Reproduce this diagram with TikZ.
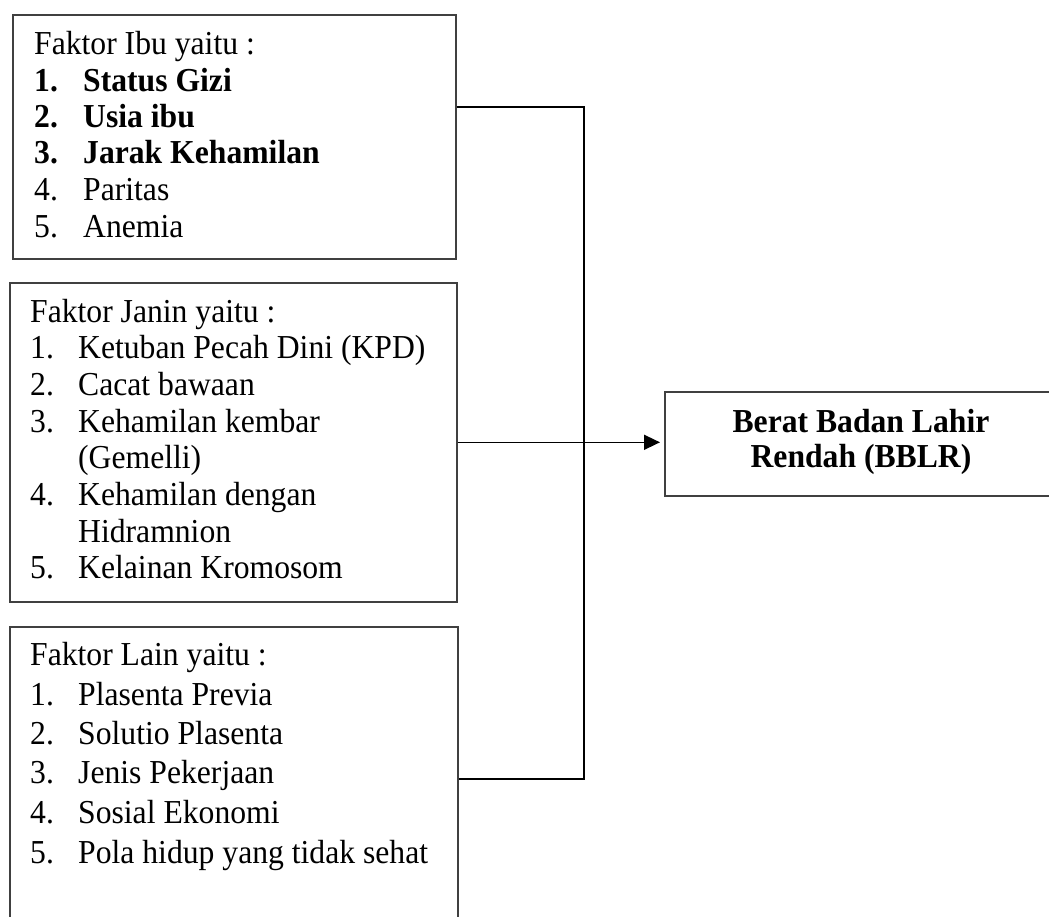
\documentclass[tikz,border=0pt]{standalone}
\usepackage{fontspec}
\setmainfont[FakeStretch=0.945]{Liberation Serif}
\usetikzlibrary{arrows.meta}
\begin{document}
\begin{tikzpicture}[x=1pt,y=-1pt,
  box/.style={draw=black!75, line width=1.6pt, rectangle, inner sep=0pt, anchor=north west},
  txt/.style={anchor=base west, inner sep=0pt, font=\fontsize{33.5}{36}\selectfont},
  bb/.style={anchor=base, inner sep=0pt, font=\fontsize{33.5}{36}\selectfont\bfseries},
  conn/.style={line width=1.5pt, draw=black}]
\useasboundingbox (0,0) rectangle (1049,916);
\begin{scope}
\clip (0,0) rectangle (1049,916);
\node[box, minimum width=443pt, minimum height=244pt] (ibu) at (12,14) {};
\node[box, minimum width=447pt, minimum height=319pt] (janin) at (9,282) {};
\node[box, minimum width=448pt, minimum height=340pt] (lain) at (9,626) {};
\node[box, minimum width=420pt, minimum height=104pt] (bblr) at (664,391) {};
\end{scope}
% texts box 1
\node[txt] (t10) at (34,54) {Faktor Ibu yaitu :};
\node[txt] (t11) at (34,91) {\bfseries\makebox[49pt][l]{1.}Status Gizi};
\node[txt] (t12) at (34,127) {\bfseries\makebox[49pt][l]{2.}Usia ibu};
\node[txt] (t13) at (34,163) {\bfseries\makebox[49pt][l]{3.}Jarak Kehamilan};
\node[txt] (t14) at (34,200) {\makebox[49pt][l]{4.}Paritas};
\node[txt] (t15) at (34,237) {\makebox[49pt][l]{5.}Anemia};
% texts box 2
\node[txt] (t20) at (30,322) {Faktor Janin yaitu :};
\node[txt] (t21) at (30,358) {\makebox[48pt][l]{1.}Ketuban Pecah Dini (KPD)};
\node[txt] (t22) at (30,395) {\makebox[48pt][l]{2.}Cacat bawaan};
\node[txt] (t23) at (30,432) {\makebox[48pt][l]{3.}Kehamilan kembar};
\node[txt] (t24) at (30,468) {\makebox[48pt][l]{}(Gemelli)};
\node[txt] (t25) at (30,505) {\makebox[48pt][l]{4.}Kehamilan dengan};
\node[txt] (t26) at (30,542) {\makebox[48pt][l]{}Hidramnion};
\node[txt] (t27) at (30,578) {\makebox[48pt][l]{5.}Kelainan Kromosom};
% texts box 3
\node[txt] (t30) at (30,665) {Faktor Lain yaitu :};
\node[txt] (t31) at (30,705) {\makebox[48pt][l]{1.}Plasenta Previa};
\node[txt] (t32) at (30,744) {\makebox[48pt][l]{2.}Solutio Plasenta};
\node[txt] (t33) at (30,783) {\makebox[48pt][l]{3.}Jenis Pekerjaan};
\node[txt] (t34) at (30,823) {\makebox[48pt][l]{4.}Sosial Ekonomi};
\node[txt] (t35) at (30,863) {\makebox[48pt][l]{5.}Pola hidup yang tidak sehat};
% text box 4
\node[bb] (b1) at (861,432) {Berat Badan Lahir};
\node[bb] (b2) at (861,467) {Rendah (BBLR)};
% connectors
\coordinate (jt) at (584,107);
\coordinate (jb) at (584,779);
\draw[conn] (ibu.east |- jt) -- (jt) -- (jb) -- (lain.east |- jb);
\draw[conn, -{Triangle[length=16pt,width=15pt]}, shorten >=4pt] (janin.east) -- (janin.east -| bblr.west);
\end{tikzpicture}
\end{document}
